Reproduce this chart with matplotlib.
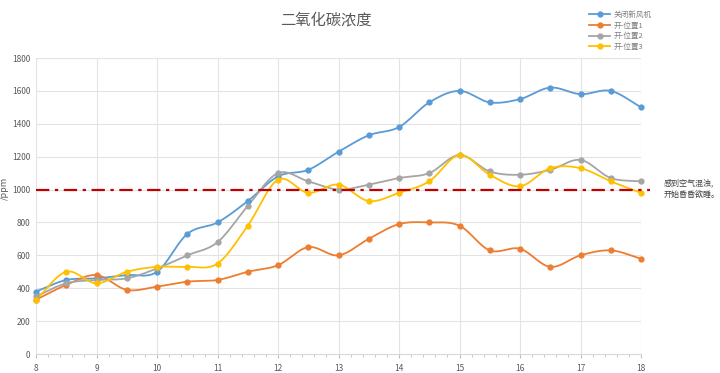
import numpy as np
import matplotlib
matplotlib.use("Agg")
import matplotlib.pyplot as plt
from matplotlib.ticker import MultipleLocator

plt.rcParams['font.family'] = ['Noto Sans CJK SC', 'DejaVu Sans']

hours = [8, 8.5, 9, 9.5, 10, 10.5, 11, 11.5, 12, 12.5, 13, 13.5, 14, 14.5, 15, 15.5, 16, 16.5, 17, 17.5, 18]
closed = [380, 450, 460, 480, 500, 730, 800, 930, 1080, 1120, 1230, 1330, 1380, 1530, 1600, 1530, 1550, 1620, 1580, 1600, 1500]
pos1 = [330, 420, 480, 390, 410, 440, 450, 500, 540, 650, 600, 700, 790, 800, 780, 630, 640, 530, 600, 630, 580]
pos2 = [350, 430, 450, 460, 520, 600, 680, 900, 1100, 1050, 1000, 1030, 1070, 1100, 1210, 1110, 1090, 1120, 1180, 1070, 1050]
pos3 = [330, 500, 430, 500, 530, 530, 550, 780, 1060, 980, 1030, 930, 980, 1050, 1210, 1090, 1020, 1130, 1130, 1050, 980]
series_names = ['关闭新风机', '开-位置1', '开-位置2', '开-位置3']
colors = ['#5B9BD5', '#ED7D31', '#A5A5A5', '#FFC000']
threshold = 1000
note = '感到空气混浊,\n开始昏昏欲睡。'


def smooth(x, y, n=20):
    x = np.asarray(x, float)
    y = np.asarray(y, float)
    px = np.concatenate([[2 * x[0] - x[1]], x, [2 * x[-1] - x[-2]]])
    py = np.concatenate([[2 * y[0] - y[1]], y, [2 * y[-1] - y[-2]]])
    xs, ys = [], []
    t = np.linspace(0, 1, n, endpoint=False)
    for i in range(1, len(px) - 2):
        def cr(a0, a1, a2, a3):
            return 0.5 * ((2 * a1) + (-a0 + a2) * t + (2 * a0 - 5 * a1 + 4 * a2 - a3) * t ** 2 + (-a0 + 3 * a1 - 3 * a2 + a3) * t ** 3)
        xs.append(cr(px[i - 1], px[i], px[i + 1], px[i + 2]))
        ys.append(cr(py[i - 1], py[i], py[i + 1], py[i + 2]))
    xs.append([x[-1]])
    ys.append([y[-1]])
    return np.concatenate(xs), np.concatenate(ys)


fig = plt.figure(figsize=(7.2, 3.73), dpi=100)
ax = fig.add_axes([36 / 720, 19 / 373, 605 / 720, 296 / 373])

for name, vals, c in zip(series_names, [closed, pos1, pos2, pos3], colors):
    sx, sy = smooth(hours, vals)
    ax.plot(sx, sy, color=c, lw=1.3, zorder=3, clip_on=False)
    ax.plot(hours, vals, 'o', color=c, ms=3.5, zorder=4, clip_on=False)
    ax.plot([], [], color=c, lw=1.3, marker='o', ms=3.5, label=name)

ax.axhline(threshold, xmin=0, xmax=1.015, color='#C00000', lw=1.6, ls=(0, (6, 2.5, 1.5, 2.5)), zorder=5, clip_on=False)

ax.set_xlim(8, 18)
ax.set_ylim(0, 1800)
ax.xaxis.set_major_locator(MultipleLocator(1))
ax.xaxis.set_minor_locator(MultipleLocator(0.2))
ax.yaxis.set_major_locator(MultipleLocator(200))
ax.grid(True, which='major', color='#E3E3E3', lw=0.8, zorder=0)
for s in ['top', 'right', 'left']:
    ax.spines[s].set_visible(False)
ax.spines['bottom'].set_color('#D9D9D9')
ax.tick_params(axis='both', which='major', labelsize=6, colors='#595959', length=0, pad=4)
ax.tick_params(axis='x', which='minor', length=2, color='#BFBFBF', direction='out')
ax.tick_params(axis='x', which='major', length=3, color='#BFBFBF')
ax.set_ylabel('/ppm', fontsize=6.5, color='#595959')
ax.yaxis.set_label_coords(-0.045, 0.56)

fig.text(326 / 720, 1 - 20 / 373, '二氧化碳浓度', fontsize=11, color='#595959', ha='center', va='center')
fig.text(664 / 720, 1 - 189 / 373, note, fontsize=5.8, color='#404040', ha='left', va='center', linespacing=1.4)

leg = fig.legend(loc='upper left', bbox_to_anchor=(582 / 720, 1 - 4 / 373), fontsize=5.5, frameon=False,
                 handlelength=2.8, labelspacing=0.35, handletextpad=0.5)
for t in leg.get_texts():
    t.set_color('#7F7F7F')

fig.savefig('out.png', dpi=100)
